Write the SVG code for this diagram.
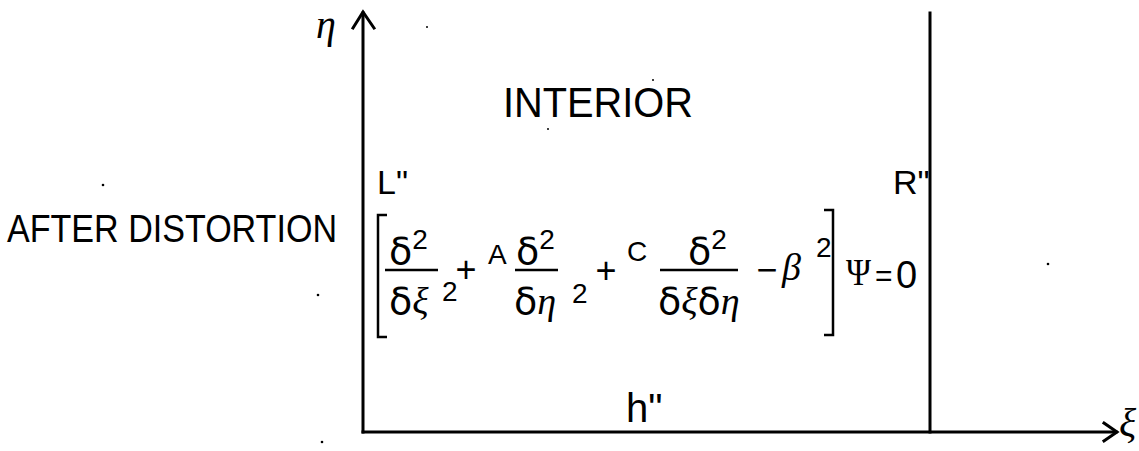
<svg xmlns="http://www.w3.org/2000/svg" width="1139" height="451" viewBox="0 0 1139 451">
<style>
.sans{font-family:"Liberation Sans","DejaVu Sans",sans-serif;fill:#000}
.greek{font-family:"DejaVu Sans",sans-serif;fill:#000}
.ital{font-family:"Liberation Serif","DejaVu Serif",serif;font-style:italic;fill:#000}
.serif{font-family:"Liberation Serif","DejaVu Serif",serif;fill:#000}
.sup{font-family:"Liberation Sans","DejaVu Sans",sans-serif;font-size:28px}
.ln{stroke:#000;stroke-width:3;fill:none;stroke-linecap:square;stroke-linejoin:miter}
.thin{stroke:#000;stroke-width:2.5;fill:none}
.speck{fill:#000}
</style>
<rect width="1139" height="451" fill="#fff"/>
<g id="connectors">
  <path class="ln" d="M363,432 V13"/>
  <path class="ln" d="M353,28 L363,12 L374,28"/>
  <path class="ln" d="M363,432 H1116"/>
  <path class="ln" d="M1104,423 L1117,432 L1104,441"/>
  <path class="ln" d="M930,13 V432"/>
</g>
<g id="axis-labels">
  <text id="eta-label" class="ital" x="316" y="38" font-size="40">η</text>
  <text id="xi-label" class="ital" x="1119" y="436" font-size="40">ξ</text>
</g>
<g id="interior">
  <text class="sans" x="503" y="117" font-size="42" textLength="190" lengthAdjust="spacingAndGlyphs">INTERIOR</text>
</g>
<g id="after-distortion">
  <text class="sans" x="7" y="242" font-size="38" textLength="330" lengthAdjust="spacingAndGlyphs">AFTER DISTORTION</text>
</g>
<g id="boundary-labels">
  <text id="L" class="sans" x="377" y="194" font-size="34">L"</text>
  <text id="R" class="sans" x="893" y="194" font-size="34">R"</text>
  <text id="h" class="sans" x="626" y="422" font-size="40">h"</text>
</g>
<g id="equation">
  <path class="thin" d="M387,215 H378 V337 H387"/>
  <path class="thin" d="M824,210 H833 V335 H824"/>
  <!-- term 1 -->
  <text class="greek" x="389" y="264" font-size="38">δ<tspan class="sup" dy="-15">2</tspan></text>
  <path class="thin" d="M385,270 H438"/>
  <text class="greek" x="389" y="314" font-size="38">δ<tspan class="ital">ξ</tspan><tspan class="sup" x="442" dy="-13">2</tspan></text>
  <text class="sans" x="466" y="282" font-size="36" text-anchor="middle">+</text>
  <!-- term 2 -->
  <text class="sans" x="488" y="264" font-size="28">A</text>
  <text class="greek" x="516" y="264" font-size="38">δ<tspan class="sup" dy="-15">2</tspan></text>
  <path class="thin" d="M515,270 H558"/>
  <text class="greek" x="514" y="314" font-size="38">δ<tspan class="ital">η</tspan><tspan class="sup" x="572" dy="-11">2</tspan></text>
  <text class="sans" x="606" y="283" font-size="36" text-anchor="middle">+</text>
  <!-- term 3 -->
  <text class="sans" x="627" y="261" font-size="28">C</text>
  <text class="greek" x="688" y="264" font-size="38">δ<tspan class="sup" dy="-15">2</tspan></text>
  <path class="thin" d="M660,270 H738"/>
  <text class="greek" x="658" y="314" font-size="38">δ<tspan class="ital">ξ</tspan>δ<tspan class="ital">η</tspan></text>
  <text class="sans" x="767" y="282" font-size="36" text-anchor="middle">−</text>
  <text class="ital" x="782" y="280" font-size="38">β<tspan class="sup" font-style="normal" x="816" dy="-23">2</tspan></text>
  <text class="serif" x="846" y="285" font-size="38" textLength="25" lengthAdjust="spacingAndGlyphs">Ψ</text>
  <text class="sans" x="875" y="286" font-size="30">=</text>
  <text class="sans" x="896" y="288" font-size="38">0</text>
</g>
<g id="specks">
  <circle class="speck" cx="318" cy="295" r="1.3"/>
  <circle class="speck" cx="322" cy="442" r="1.3"/>
  <circle class="speck" cx="103" cy="185" r="1.3"/>
  <circle class="speck" cx="1048" cy="264" r="1.3"/>
  <circle class="speck" cx="653" cy="80" r="1"/>
  <circle class="speck" cx="548" cy="129" r="1"/>
  <circle class="speck" cx="427" cy="27" r="1"/>
</g>
</svg>
